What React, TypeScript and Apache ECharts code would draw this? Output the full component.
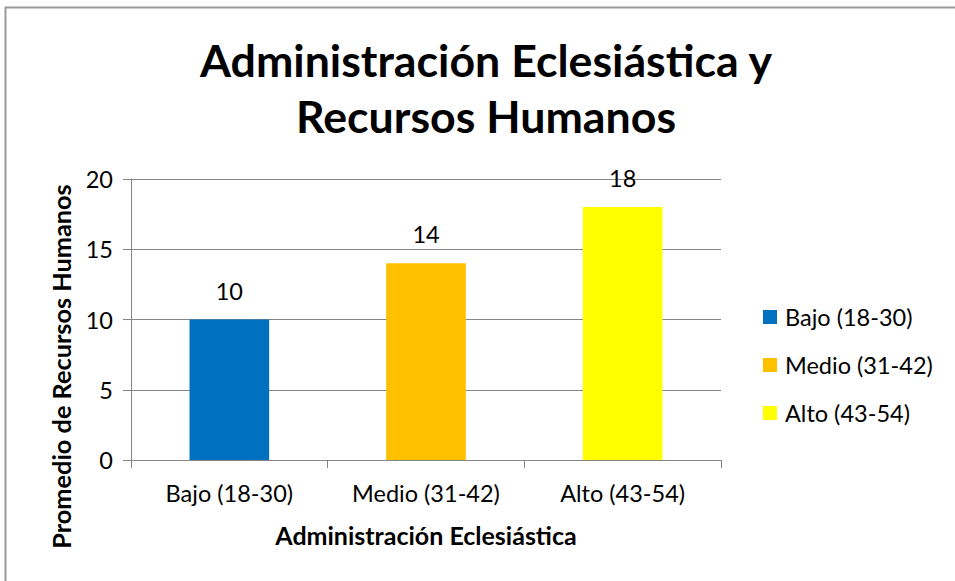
import React, { useEffect, useRef } from "react";
import * as echarts from "echarts";

const categories = ["Bajo (18-30)", "Medio (31-42)", "Alto (43-54)"];
const seriesNames = ["Bajo (18-30)", "Medio (31-42)", "Alto (43-54)"];
const values = [10, 14, 18];
const colors = ["#0070C0", "#FFC000", "#FFFF00"];
const titleLines = ["Administración Eclesiástica y", "Recursos Humanos"];
const xAxisName = "Administración Eclesiástica";
const yAxisName = "Promedio de Recursos Humanos";

const FONT = "Lato, 'Open Sans', sans-serif";

export default function App() {
  const ref = useRef<HTMLDivElement>(null);
  useEffect(() => {
    if (!ref.current) return;
    const chart = echarts.init(ref.current, undefined, { renderer: "svg" });
    const series = seriesNames.map((name, i) => ({
      name,
      type: "bar",
      stack: "all",
      barWidth: "40.5%",
      itemStyle: { color: colors[i] },
      label: {
        show: true,
        position: "top",
        distance: 17,
        color: "#000",
        fontFamily: FONT,
        fontSize: 23.5,
      },
      data: categories.map((_, j) => (j === i ? values[i] : "-")),
    }));
    chart.setOption({
      animation: false,
      backgroundColor: "#fff",
      textStyle: { fontFamily: FONT },
      title: {
        text: titleLines.join("\n"),
        left: 481,
        textAlign: "center",
        top: 27,
        textStyle: {
          fontFamily: FONT,
          fontSize: 44.7,
          fontWeight: "bold",
          color: "#000",
          lineHeight: 56,
        },
      },
      graphic: [
        {
          type: "rect",
          shape: { x: 5.5, y: 7.5, width: 1000, height: 700 },
          style: { fill: "none", stroke: "#9a9a9a", lineWidth: 2 },
          silent: true,
        },
      ],
      legend: {
        orient: "vertical",
        left: 758,
        top: 300,
        itemWidth: 14,
        itemHeight: 14,
        itemGap: 24,
        icon: "rect",
        textStyle: {
          fontFamily: FONT,
          fontSize: 23.5,
          lineHeight: 24,
          color: "#000",
          padding: [0, 0, 0, 3],
        },
        data: seriesNames,
      },
      grid: { left: 131, right: 234, top: 179, bottom: 121, containLabel: false },
      xAxis: {
        type: "category",
        data: categories,
        name: xAxisName,
        nameLocation: "middle",
        nameGap: 62,
        nameTextStyle: { fontFamily: FONT, fontSize: 25, fontWeight: "bold", color: "#000" },
        axisLine: { lineStyle: { color: "#868686", width: 1 } },
        axisTick: { show: true, length: 8, lineStyle: { color: "#868686" } },
        axisLabel: { fontFamily: FONT, fontSize: 23.5, color: "#000", margin: 21 },
      },
      yAxis: {
        type: "value",
        min: 0,
        max: 20,
        interval: 5,
        name: yAxisName,
        nameLocation: "middle",
        nameGap: 58,
        nameTextStyle: {
          fontFamily: FONT,
          fontSize: 25.3,
          fontWeight: "bold",
          color: "#000",
          padding: [0, 94, 0, 0],
        },
        axisLine: { show: true, lineStyle: { color: "#868686", width: 1 } },
        axisTick: { show: true, length: 8, lineStyle: { color: "#868686" } },
        splitLine: { show: true, lineStyle: { color: "#868686", width: 1 } },
        axisLabel: { fontFamily: FONT, fontSize: 23.5, color: "#000", margin: 18 },
      },
      series,
    });
    return () => chart.dispose();
  }, []);
  return (
    <div
      ref={ref}
      style={{ position: "fixed", left: 0, top: 0, width: 955, height: 581 }}
    />
  );
}
